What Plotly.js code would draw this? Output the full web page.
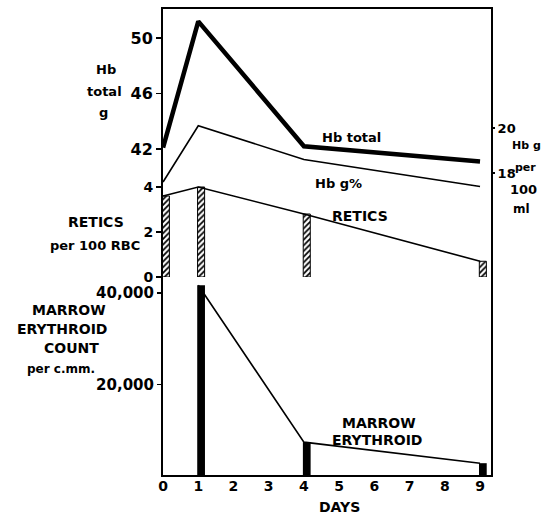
<!DOCTYPE html>
<html><head><meta charset="utf-8">
<script src="https://cdn.plot.ly/plotly-3.0.1.min.js"></script>
<style>html,body{margin:0;padding:0;background:#fff}#chart{width:544px;height:514px}</style>
</head><body><div id="chart"></div>
<script>
// ---- data ----
const days = [0, 1, 4, 9];
const hbTotal = [42.1, 51.2, 42.2, 41.1];        // g (left upper axis)
const hbPercent = [17.6, 20.1, 18.6, 17.4];      // g per 100 ml (right axis)
const retics = [3.6, 4.0, 2.8, 0.7];             // per 100 RBC
const marrowDays = [1, 4, 9];
const marrowErythroid = [41700, 7400, 2800];     // per c.mm.
const dayTicks = [0, 1, 2, 3, 4, 5, 6, 7, 8, 9];
const hbTotalTicks = [42, 46, 50];
const hbPercentTicks = [18, 20];
const reticTicks = [0, 2, 4];
const marrowTicks = [20000, 40000];
const marrowTickText = ['20,000', '40,000'];

// ---- layout helpers (pixel -> paper) ----
const L = 162, R = 52, T = 8, B = 38, W = 544, H = 514;
const PW = W - L - R, PH = H - T - B;
function px(x) { return (x - L) / PW; }
function py(y) { return (T + PH - y) / PH; }

const FONT = 'DejaVu Sans';
const ink = 'black';
const clear = 'rgba(0,0,0,0)';

const traces = [
  { x: days, y: hbTotal, yaxis: 'y', type: 'scatter', mode: 'lines',
    line: { color: ink, width: 4.5 }, hoverinfo: 'skip' },
  { x: days, y: hbPercent, yaxis: 'y2', type: 'scatter', mode: 'lines',
    line: { color: ink, width: 1.6 }, hoverinfo: 'skip' },
  { x: days, y: retics, yaxis: 'y3', type: 'bar', width: 0.2, offset: -0.02,
    marker: { color: 'white', line: { color: ink, width: 1 },
      pattern: { shape: '/', fgcolor: ink, bgcolor: 'white', size: 4, solidity: 0.45 } },
    hoverinfo: 'skip' },
  { x: days, y: retics, yaxis: 'y3', type: 'scatter', mode: 'lines',
    line: { color: ink, width: 1.6 }, hoverinfo: 'skip' },
  { x: marrowDays, y: marrowErythroid, yaxis: 'y4', type: 'bar', width: 0.22, offset: -0.03,
    marker: { color: ink, line: { color: ink, width: 0 } }, hoverinfo: 'skip' },
  { x: marrowDays, y: marrowErythroid, yaxis: 'y4', type: 'scatter', mode: 'lines',
    line: { color: ink, width: 1.6 }, hoverinfo: 'skip' }
];

function ann(text, x, y, size, extra) {
  return Object.assign({ text: text, xref: 'paper', yref: 'paper', x: px(x), y: py(y),
    xanchor: 'center', yanchor: 'middle', showarrow: false,
    font: { family: FONT, size: size, color: ink, weight: 'bold' } }, extra || {});
}

const annotations = [
  ann('Hb', 106, 70, 13), ann('total', 104, 91, 13), ann('g', 103, 112, 13),
  ann('RETICS', 96, 222, 14), ann('per 100 RBC', 95, 245, 13),
  ann('MARROW', 69, 310, 14), ann('ERYTHROID', 62, 329, 14),
  ann('COUNT', 71, 348, 14), ann('per c.mm.', 61, 369, 12),
  ann('Hb total', 351, 137, 13), ann('Hb g%', 338, 183, 13),
  ann('RETICS', 360, 216, 14),
  ann('MARROW', 379, 423, 14), ann('ERYTHROID', 377, 440, 14),
  ann('Hb g', 526, 146, 11), ann('per', 525, 167, 11),
  ann('100', 523, 190, 13), ann('ml', 521, 209, 12),
  ann('DAYS', 339, 507, 14)
];

const tickFont = (s) => ({ family: FONT, size: s, color: ink, weight: 'bold' });

const layout = {
  width: W, height: H,
  margin: { l: L, r: R, t: T, b: B, pad: 0 },
  paper_bgcolor: 'white', plot_bgcolor: clear,
  showlegend: false, barmode: 'overlay',
  xaxis: { anchor: 'y4', range: [-0.03, 9.34], tickvals: dayTicks, ticktext: dayTicks.map(String),
    showgrid: false, zeroline: false, showline: false, ticks: '',
    tickfont: tickFont(14), fixedrange: true },
  yaxis: { domain: [py(190), 1], anchor: 'x', range: [39.05, 52.16], tickvals: hbTotalTicks,
    showgrid: false, zeroline: false, showline: false, ticks: 'outside', ticklen: 5,
    tickcolor: ink, tickwidth: 1.5, tickfont: tickFont(16) },
  yaxis2: { overlaying: 'y', side: 'right', anchor: 'x', range: [17.244, 25.33], tickvals: hbPercentTicks,
    showgrid: false, zeroline: false, showline: false, ticks: 'outside', ticklen: 2,
    ticklabelstandoff: 0,
    tickcolor: ink, tickwidth: 1.5, tickfont: tickFont(13) },
  yaxis3: { domain: [py(277), 1], anchor: 'x', range: [0, 11.956], tickvals: reticTicks,
    showgrid: false, zeroline: false, showline: false, ticks: 'outside', ticklen: 5,
    tickcolor: ink, tickwidth: 1.5, tickfont: tickFont(14) },
  yaxis4: { domain: [0, py(277)], anchor: 'x', range: [0, 43497], tickvals: marrowTicks,
    ticktext: marrowTickText,
    showgrid: false, zeroline: false, showline: false, ticks: 'outside', ticklen: 4,
    tickcolor: ink, tickwidth: 1.5, tickfont: tickFont(15) },
  shapes: [
    { type: 'rect', xref: 'paper', yref: 'paper', x0: 0, y0: 0, x1: 1, y1: 1,
      line: { color: ink, width: 2 }, fillcolor: clear, layer: 'above' }
  ],
  annotations: annotations
};

Plotly.newPlot('chart', traces, layout, { displayModeBar: false, staticPlot: true });
</script>
</body></html>
